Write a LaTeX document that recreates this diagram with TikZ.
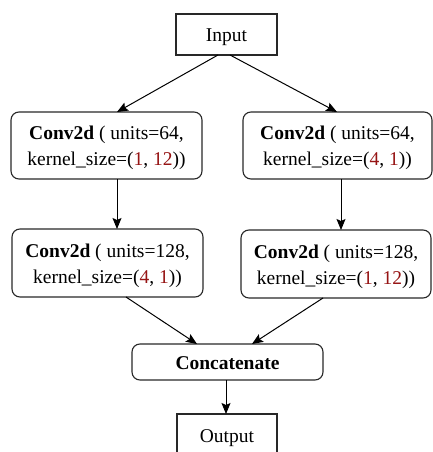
\documentclass[tikz,border=0pt]{standalone}
\usepackage{fontspec}
\setmainfont{Liberation Serif}
\usetikzlibrary{arrows.meta}
\definecolor{numred}{RGB}{150,20,20}
\definecolor{edge}{RGB}{40,40,40}
\newcommand{\nm}[1]{\textcolor{numred}{#1}}
\tikzset{
  plainbox/.style={draw=edge, line width=1.1pt, fill=white},
  layerbox/.style={draw=edge, line width=1.1pt, rounded corners=8pt, fill=white},
  flow/.style={draw=black, line width=1pt, -{Stealth[length=11pt,width=9pt,inset=2pt]}},
  lbl/.style={font=\fontsize{19.5}{26}\selectfont, align=center, text=black}
}
\begin{document}
\begin{tikzpicture}[x=1pt,y=-1pt]
\useasboundingbox (0,0) rectangle (433,452);
\clip (0,0) rectangle (433,452);
% boxes
\path[plainbox] (176,14) rectangle (277,55);
\node[lbl] (in) at (226.5,37) {Input};

\path[layerbox] (11,112) rectangle (202,179);
\node[lbl] (l1) at (106.5,148) {\textbf{Conv2d} ( units=64,\\ kernel\_size=(\nm{1}, \nm{12}))};
\path[layerbox] (243,112) rectangle (432,179);
\node[lbl] (r1) at (337.5,148) {\textbf{Conv2d} ( units=64,\\ kernel\_size=(\nm{4}, \nm{1}))};

\path[layerbox] (12,229) rectangle (203,297);
\node[lbl] (l2) at (107.5,265.5) {\textbf{Conv2d} ( units=128,\\ kernel\_size=(\nm{4}, \nm{1}))};
\path[layerbox] (241,230) rectangle (431,298);
\node[lbl] (r2) at (336,266.5) {\textbf{Conv2d} ( units=128,\\ kernel\_size=(\nm{1}, \nm{12}))};

\path[layerbox] (132,344) rectangle (323,380);
\node[lbl] (cat) at (227.5,363.5) {\textbf{Concatenate}};

\path[plainbox] (177,414) rectangle (277,470);
\node[lbl] (out) at (227,438) {Output};

% connectors
\coordinate (a1) at (218,55);  \coordinate (a1e) at (117,112);
\coordinate (a2) at (230,55);  \coordinate (a2e) at (337,112);
\coordinate (b1) at (117,179); \coordinate (b1e) at (117,229);
\coordinate (b2) at (341,179); \coordinate (b2e) at (341,230);
\coordinate (c1) at (126,297); \coordinate (c1e) at (197,344);
\coordinate (c2) at (323,298); \coordinate (c2e) at (252,344);
\coordinate (d1) at (226,380); \coordinate (d1e) at (226,414);
\draw[flow] (a1) -- (a1e);
\draw[flow] (a2) -- (a2e);
\draw[flow] (b1) -- (b1e);
\draw[flow] (b2) -- (b2e);
\draw[flow] (c1) -- (c1e);
\draw[flow] (c2) -- (c2e);
\draw[flow] (d1) -- (d1e);
\end{tikzpicture}
\end{document}
